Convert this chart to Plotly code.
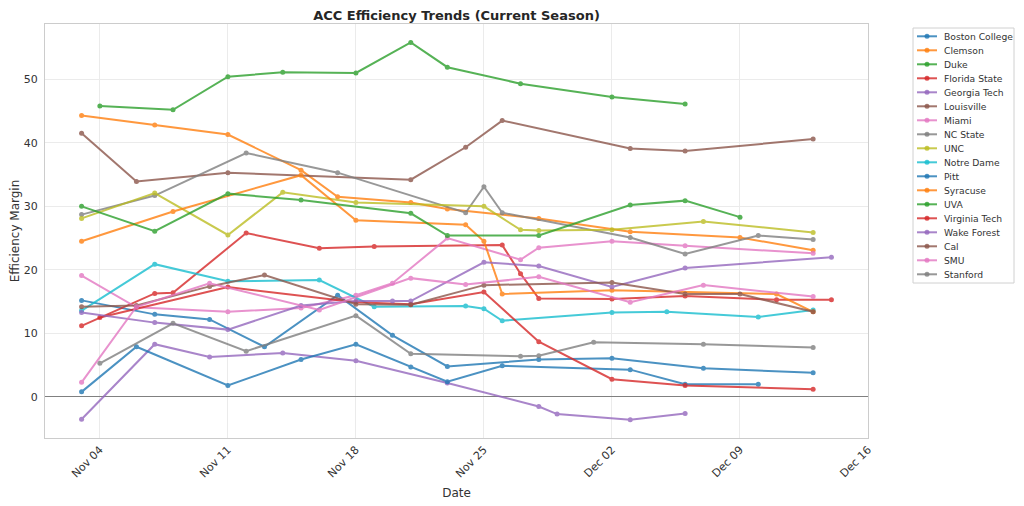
import plotly.graph_objects as go

teams = ["Boston College", "Clemson", "Duke", "Florida State", "Georgia Tech", "Louisville",
         "Miami", "NC State", "UNC", "Notre Dame", "Pitt", "Syracuse", "UVA", "Virginia Tech",
         "Wake Forest", "Cal", "SMU", "Stanford"]

bc_dates = ["2024-11-03", "2024-11-07", "2024-11-10", "2024-11-13", "2024-11-17", "2024-11-20", "2024-11-23", "2024-11-28", "2024-12-02", "2024-12-07", "2024-12-13"]
bc_vals = [15.2, 13.0, 12.2, 7.9, 16.0, 9.7, 4.8, 5.9, 6.1, 4.5, 3.8]

clemson_dates = ["2024-11-03", "2024-11-07", "2024-11-11", "2024-11-15", "2024-11-17", "2024-11-21", "2024-11-23", "2024-11-28", "2024-12-03", "2024-12-09", "2024-12-13"]
clemson_vals = [44.3, 42.8, 41.3, 35.7, 31.5, 30.6, 29.6, 28.1, 26.0, 25.1, 23.1]

duke_dates = ["2024-11-04", "2024-11-08", "2024-11-11", "2024-11-14", "2024-11-18", "2024-11-21", "2024-11-23", "2024-11-27", "2024-12-02", "2024-12-06"]
duke_vals = [45.8, 45.2, 50.4, 51.1, 51.0, 55.8, 51.9, 49.3, 47.2, 46.1]

fsu_dates = ["2024-11-03", "2024-11-07", "2024-11-08", "2024-11-12", "2024-11-16", "2024-11-19", "2024-11-26", "2024-11-27", "2024-11-28", "2024-12-02", "2024-12-06", "2024-12-11", "2024-12-14"]
fsu_vals = [11.2, 16.3, 16.4, 25.8, 23.4, 23.7, 23.9, 19.4, 15.5, 15.4, 15.9, 15.3, 15.3]

gt_dates = ["2024-11-03", "2024-11-07", "2024-11-10", "2024-11-14", "2024-11-18", "2024-11-23", "2024-11-28", "2024-11-29", "2024-12-03", "2024-12-06"]
gt_vals = [-3.5, 8.3, 6.3, 6.9, 5.7, 2.2, -1.5, -2.7, -3.6, -2.6]

louisville_dates = ["2024-11-03", "2024-11-06", "2024-11-11", "2024-11-21", "2024-11-24", "2024-11-26", "2024-12-03", "2024-12-06", "2024-12-13"]
louisville_vals = [41.5, 33.9, 35.3, 34.2, 39.3, 43.5, 39.1, 38.7, 40.6]

miami_dates = ["2024-11-03", "2024-11-06", "2024-11-11", "2024-11-15", "2024-11-18", "2024-11-20", "2024-11-23", "2024-11-27", "2024-11-28", "2024-12-02", "2024-12-06", "2024-12-13"]
miami_vals = [19.1, 14.1, 13.4, 14.0, 16.0, 17.9, 25.0, 21.6, 23.5, 24.5, 23.8, 22.6]

ncstate_dates = ["2024-11-03", "2024-11-07", "2024-11-12", "2024-11-17", "2024-11-24", "2024-11-25", "2024-11-26", "2024-12-03", "2024-12-06", "2024-12-10", "2024-12-13"]
ncstate_vals = [28.7, 31.7, 38.4, 35.3, 29.0, 33.1, 29.0, 25.1, 22.5, 25.4, 24.8]

unc_dates = ["2024-11-03", "2024-11-07", "2024-11-11", "2024-11-14", "2024-11-18", "2024-11-25", "2024-11-27", "2024-11-28", "2024-12-02", "2024-12-07", "2024-12-13"]
unc_vals = [28.1, 32.1, 25.5, 32.2, 30.6, 30.0, 26.3, 26.2, 26.3, 27.6, 25.9]

nd_dates = ["2024-11-03", "2024-11-07", "2024-11-11", "2024-11-16", "2024-11-19", "2024-11-24", "2024-11-25", "2024-11-26", "2024-12-02", "2024-12-05", "2024-12-10", "2024-12-13"]
nd_vals = [13.6, 20.9, 18.2, 18.4, 14.2, 14.3, 13.9, 12.0, 13.3, 13.4, 12.6, 13.7]

pitt_dates = ["2024-11-03", "2024-11-06", "2024-11-11", "2024-11-15", "2024-11-18", "2024-11-21", "2024-11-23", "2024-11-26", "2024-12-03", "2024-12-06", "2024-12-10"]
pitt_vals = [0.8, 7.9, 1.8, 5.9, 8.3, 4.7, 2.4, 4.9, 4.3, 2.0, 2.0]

syracuse_dates = ["2024-11-03", "2024-11-08", "2024-11-15", "2024-11-18", "2024-11-24", "2024-11-25", "2024-11-26", "2024-12-02", "2024-12-11", "2024-12-13"]
syracuse_vals = [24.5, 29.2, 34.9, 27.8, 27.1, 24.5, 16.2, 16.8, 16.2, 13.4]

uva_dates = ["2024-11-03", "2024-11-07", "2024-11-11", "2024-11-15", "2024-11-21", "2024-11-23", "2024-11-28", "2024-12-03", "2024-12-06", "2024-12-09"]
uva_vals = [30.0, 26.1, 32.0, 31.0, 28.9, 25.4, 25.4, 30.2, 30.9, 28.3]

vt_dates = ["2024-11-04", "2024-11-11", "2024-11-18", "2024-11-21", "2024-11-25", "2024-11-28", "2024-12-02", "2024-12-06", "2024-12-13"]
vt_vals = [12.5, 17.3, 14.9, 14.6, 16.5, 8.7, 2.8, 1.8, 1.2]

wake_dates = ["2024-11-03", "2024-11-07", "2024-11-11", "2024-11-15", "2024-11-18", "2024-11-20", "2024-11-21", "2024-11-25", "2024-11-28", "2024-12-02", "2024-12-06", "2024-12-14"]
wake_vals = [13.3, 11.7, 10.6, 14.4, 15.1, 15.1, 15.1, 21.2, 20.6, 17.3, 20.3, 22.0]

cal_dates = ["2024-11-03", "2024-11-06", "2024-11-10", "2024-11-13", "2024-11-18", "2024-11-21", "2024-11-25", "2024-12-02", "2024-12-06", "2024-12-09", "2024-12-13"]
cal_vals = [14.2, 14.4, 17.4, 19.2, 14.6, 14.5, 17.6, 18.0, 16.2, 16.2, 13.4]

smu_dates = ["2024-11-03", "2024-11-06", "2024-11-10", "2024-11-16", "2024-11-21", "2024-11-24", "2024-11-28", "2024-12-03", "2024-12-07", "2024-12-13"]
smu_vals = [2.3, 14.2, 17.9, 13.7, 18.7, 17.7, 18.9, 14.9, 17.6, 15.8]

stanford_dates = ["2024-11-04", "2024-11-08", "2024-11-12", "2024-11-18", "2024-11-21", "2024-11-27", "2024-11-28", "2024-12-01", "2024-12-07", "2024-12-13"]
stanford_vals = [5.3, 11.6, 7.2, 12.8, 6.8, 6.4, 6.5, 8.6, 8.3, 7.8]

x_tickvals = ["2024-11-04", "2024-11-11", "2024-11-18", "2024-11-25", "2024-12-02", "2024-12-09", "2024-12-16"]
x_ticktext = ["Nov 04", "Nov 11", "Nov 18", "Nov 25", "Dec 02", "Dec 09", "Dec 16"]
y_tickvals = [0, 10, 20, 30, 40, 50]

series = [
    (bc_dates, bc_vals), (clemson_dates, clemson_vals), (duke_dates, duke_vals),
    (fsu_dates, fsu_vals), (gt_dates, gt_vals), (louisville_dates, louisville_vals),
    (miami_dates, miami_vals), (ncstate_dates, ncstate_vals), (unc_dates, unc_vals),
    (nd_dates, nd_vals), (pitt_dates, pitt_vals), (syracuse_dates, syracuse_vals),
    (uva_dates, uva_vals), (vt_dates, vt_vals), (wake_dates, wake_vals),
    (cal_dates, cal_vals), (smu_dates, smu_vals), (stanford_dates, stanford_vals),
]

palette = ["#1f77b4", "#ff7f0e", "#2ca02c", "#d62728", "#9467bd",
           "#8c564b", "#e377c2", "#7f7f7f", "#bcbd22", "#17becf"]

# Page has an 8px body margin; figure is sized so that the page is 1024x506.
PAGE_OFF = 8
FIG_W, FIG_H = 1024 - PAGE_OFF, 506 - PAGE_OFF
PLOT_L, PLOT_R, PLOT_T, PLOT_B = 45, 868, 24, 438   # page pixels of the axes box


def px_x(px):
    return (px - PLOT_L) / (PLOT_R - PLOT_L)


def px_y(py):
    return (PLOT_B - py) / (PLOT_B - PLOT_T)


fig = go.Figure()
for i, (name, (d, v)) in enumerate(zip(teams, series)):
    c = palette[i % len(palette)]
    fig.add_trace(go.Scatter(
        x=d, y=v, name=name, mode="lines+markers",
        line=dict(color=c, width=2),
        marker=dict(color=c, size=5),
        opacity=0.8, showlegend=False,
    ))

# custom compact legend (matplotlib style)
shapes = [dict(type="rect", xref="paper", yref="paper",
               x0=px_x(913), x1=px_x(1014), y0=px_y(283), y1=px_y(28),
               line=dict(color="#d0d0d0", width=1), fillcolor="rgba(255,255,255,0.8)", layer="above")]
annotations = []
for i, name in enumerate(teams):
    c = palette[i % len(palette)]
    yy = px_y(36.3 + 14.0 * i)
    shapes.append(dict(type="line", xref="paper", yref="paper",
                       x0=px_x(917), x1=px_x(937), y0=yy, y1=yy,
                       line=dict(color=c, width=2), opacity=0.8, layer="above"))
    shapes.append(dict(type="circle", xref="paper", yref="paper",
                       xsizemode="pixel", ysizemode="pixel",
                       xanchor=px_x(927), yanchor=yy,
                       x0=-2.5, x1=2.5, y0=-2.5, y1=2.5,
                       line=dict(color=c, width=0), fillcolor=c, opacity=0.8, layer="above"))
    annotations.append(dict(text=name, xref="paper", yref="paper",
                            x=px_x(942), y=yy, xanchor="left", yanchor="middle",
                            showarrow=False, font=dict(size=9.2, color="#333333")))

fig.update_layout(
    width=FIG_W, height=FIG_H,
    margin=dict(l=PLOT_L - PAGE_OFF, r=1024 - PLOT_R, t=PLOT_T - PAGE_OFF, b=506 - PLOT_B, pad=0),
    paper_bgcolor="white", plot_bgcolor="white",
    font=dict(family="DejaVu Sans", size=11, color="#333333"),
    title=dict(text="<b>ACC Efficiency Trends (Current Season)</b>",
               x=0.5, xref="paper", xanchor="center",
               y=1.0, yref="container", yanchor="top", pad=dict(t=3, b=0),
               font=dict(size=13, color="#262626")),
    showlegend=False,
    shapes=shapes,
    annotations=annotations,
    xaxis=dict(
        range=["2024-11-01", "2024-12-16"],
        tickvals=x_tickvals, ticktext=x_ticktext, tickangle=-45,
        showgrid=True, gridcolor="#ebebeb", gridwidth=1,
        showline=True, linecolor="#cccccc", linewidth=1, mirror=True,
        ticks="", zeroline=False, automargin=False,
        title=dict(text="Date", font=dict(size=12, color="#333333"), standoff=9),
    ),
    yaxis=dict(
        range=[-6.46, 58.7],
        tickvals=y_tickvals,
        showgrid=True, gridcolor="#ebebeb", gridwidth=1,
        showline=True, linecolor="#cccccc", linewidth=1, mirror=True,
        ticks="", zeroline=True, zerolinecolor="#808080", zerolinewidth=1,
        automargin=False, ticklabelstandoff=4,
        title=dict(text="Efficiency Margin", font=dict(size=12, color="#333333"), standoff=6),
    ),
)

fig.write_html("out.html")
